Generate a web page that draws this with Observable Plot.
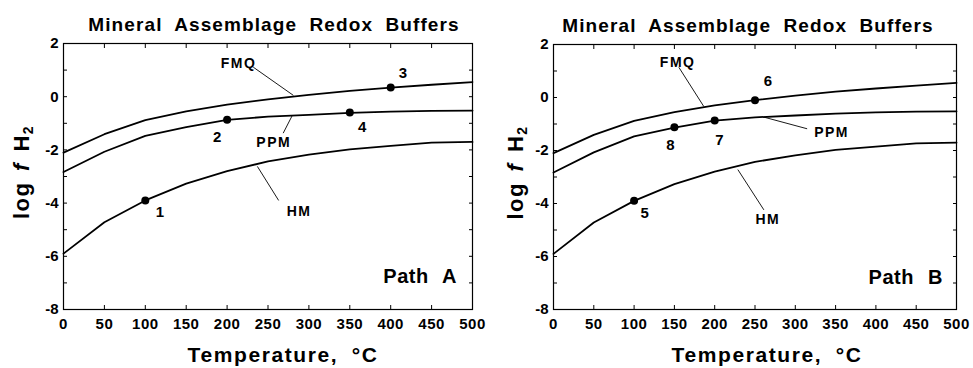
<!DOCTYPE html>
<html>
<head>
<meta charset="utf-8">
<script src="https://cdn.jsdelivr.net/npm/d3@7"></script>
<script src="https://cdn.jsdelivr.net/npm/@observablehq/plot@0.6"></script>
<style>
  body { margin: 0; background: #fff; }
  #charts { display: flex; width: 973px; height: 368px; }
  #charts svg { font-family: "Liberation Sans", Arial, Helvetica, sans-serif; color: #000; }
</style>
</head>
<body>
<div id="charts"></div>
<script>
// Buffer curves: log fH2 versus temperature (°C)
const temperature = [0, 50, 100, 150, 200, 250, 300, 350, 400, 450, 500];
const fmq = [-2.1, -1.41, -0.88, -0.55, -0.3, -0.1, 0.07, 0.22, 0.34, 0.45, 0.55];
const ppm = [-2.83, -2.07, -1.47, -1.14, -0.87, -0.75, -0.68, -0.61, -0.56, -0.53, -0.52];
const hm  = [-5.9, -4.72, -3.9, -3.27, -2.8, -2.43, -2.18, -1.98, -1.85, -1.73, -1.7];
const bufferNames = ["FMQ", "PPM", "HM"];

// Numbered states along each reaction path
const pathAIds  = ["1", "2", "3", "4"];
const pathATemp = [100, 200, 400, 350];
const pathALogF = [-3.9, -0.87, 0.35, -0.59];

const pathBIds  = ["5", "6", "7", "8"];
const pathBTemp = [100, 250, 200, 150];
const pathBLogF = [-3.9, -0.1, -0.87, -1.12];

const xTickValues = d3.range(0, 501, 50);
const yTickValues = d3.range(-8, 3, 1);
const yTickLabels = [-8, -6, -4, -2, 0, 2];

const titleText = "Mineral Assemblage Redox Buffers";
const xLabelText = "Temperature, °C";

const curves = bufferNames.flatMap((name, k) =>
  temperature.map((t, i) => ({buffer: name, t, v: [fmq, ppm, hm][k][i]})));

// Label placement for each panel (data units)
const panels = [
  {
    path: "Path A", ids: pathAIds, temp: pathATemp, logf: pathALogF,
    idPos: [[118, -4.35], [188, -1.52], [415, 0.88], [365, -1.15]],
    namePos: [[214, 1.26], [257, -1.71], [288, -4.3]],
    leaders: [[232, 1.11, 281, 0.05], [268.6, -1.37, 279.6, -0.71], [263, -3.9, 237, -2.62]],
    pathPos: [436, -6.78],
    width: 486, marginLeft: 63, marginRight: 14, marginTop: 43,
    titleDx: 6, xLabelDx: 15, yLabelX: 23
  },
  {
    path: "Path B", ids: pathBIds, temp: pathBTemp, logf: pathBLogF,
    idPos: [[113, -4.37], [266, 0.6], [206, -1.6], [145, -1.81]],
    namePos: [[154, 1.33], [345, -1.31], [266, -4.62]],
    leaders: [[155.5, 1.14, 186.5, -0.34], [314.7, -1.18, 261, -0.74], [261, -4.24, 228.7, -2.72]],
    pathPos: [437, -6.78],
    width: 487, marginLeft: 67, marginRight: 17, marginTop: 44,
    titleDx: -7, xLabelDx: 12, yLabelX: 31
  }
];

// Apply spacing styles to text elements by their content
function spaceText(svg, match, letter, word) {
  d3.select(svg).selectAll("text").filter(function() { return match(this.textContent); })
    .style("letter-spacing", letter + "px")
    .style("word-spacing", word + "px");
}

function drawPanel(p) {
  const points = p.ids.map((id, i) => ({id, t: p.temp[i], v: p.logf[i], lx: p.idPos[i][0], ly: p.idPos[i][1]}));
  const names = bufferNames.map((name, i) => ({name, x: p.namePos[i][0], y: p.namePos[i][1]}));
  const leaders = p.leaders.map(([x1, y1, x2, y2]) => ({x1, y1, x2, y2}));

  const chart = Plot.plot({
    width: p.width,
    height: 368,
    marginLeft: p.marginLeft,
    marginRight: p.marginRight,
    marginTop: p.marginTop,
    marginBottom: 59,
    x: {domain: [0, 500]},
    y: {domain: [-8, 2]},
    style: {fontFamily: "Liberation Sans, Arial, sans-serif", background: "#fff"},
    marks: [
      Plot.frame({stroke: "#000", strokeWidth: 1.2}),
      Plot.axisX({anchor: "bottom", ticks: xTickValues, tickSize: -4, tickPadding: 13, label: null}),
      Plot.axisX({anchor: "top", ticks: xTickValues, tickSize: -4, fill: "none", label: null}),
      Plot.axisY({anchor: "left", ticks: yTickValues, tickSize: -4, tickPadding: 9, label: null,
        tickFormat: d => yTickLabels.includes(d) ? String(d) : ""}),
      Plot.axisY({anchor: "right", ticks: yTickValues, tickSize: -4, fill: "none", label: null}),
      Plot.line(curves, {x: "t", y: "v", z: "buffer", stroke: "#000", strokeWidth: 1.8}),
      Plot.link(leaders, {x1: "x1", y1: "y1", x2: "x2", y2: "y2", stroke: "#000", strokeWidth: 0.9}),
      Plot.dot(points, {x: "t", y: "v", r: 4, fill: "#000"}),
      Plot.text(points, {x: "lx", y: "ly", text: "id", fontSize: 15, fontWeight: "bold"}),
      Plot.text(names, {x: "x", y: "y", text: "name", fontSize: 14, fontWeight: "bold"}),
      Plot.text([p.path], {x: p.pathPos[0], y: p.pathPos[1], text: d => d, fontSize: 20, fontWeight: "bold"}),
      Plot.text([titleText], {frameAnchor: "top", dx: p.titleDx, dy: -19,
        text: d => d, fontSize: 19, fontWeight: "bold", lineAnchor: "middle"}),
      Plot.text([xLabelText], {frameAnchor: "bottom", dx: p.xLabelDx, dy: 46,
        text: d => d, fontSize: 21, fontWeight: "bold", lineAnchor: "middle"})
    ]
  });

  // Tick label typography
  d3.select(chart).selectAll('g[aria-label="x-axis tick label"] text, g[aria-label="y-axis tick label"] text')
    .style("font-size", "15px")
    .style("font-weight", "bold");
  d3.select(chart).selectAll('g[aria-label="x-axis tick label"] text').style("letter-spacing", "0.5px");

  // Vertical axis title with italic f and subscript 2
  const y = chart.scale("y");
  const yMid = (y.range[0] + y.range[1]) / 2;
  const label = d3.select(chart).append("text")
    .attr("transform", `translate(${p.yLabelX},${yMid - 4}) rotate(-90)`)
    .attr("text-anchor", "middle")
    .attr("dominant-baseline", "middle")
    .attr("font-size", 22)
    .attr("font-weight", "bold")
    .attr("fill", "#000")
    .style("letter-spacing", "1.5px")
    .style("word-spacing", "3px");
  label.append("tspan").text("log ");
  label.append("tspan").attr("font-style", "italic").text("f");
  label.append("tspan").text(" H");
  label.append("tspan").attr("font-size", 14).attr("dy", 6).text("2");

  spaceText(chart, t => t === titleText, 1.1, 6);
  spaceText(chart, t => t === xLabelText, 1.6, 6);
  spaceText(chart, t => t === p.path, 0.5, 8);
  spaceText(chart, t => bufferNames.includes(t), 1.5, 0);
  return chart;
}

const root = document.getElementById("charts");
panels.forEach(p => root.appendChild(drawPanel(p)));
</script>
</body>
</html>
